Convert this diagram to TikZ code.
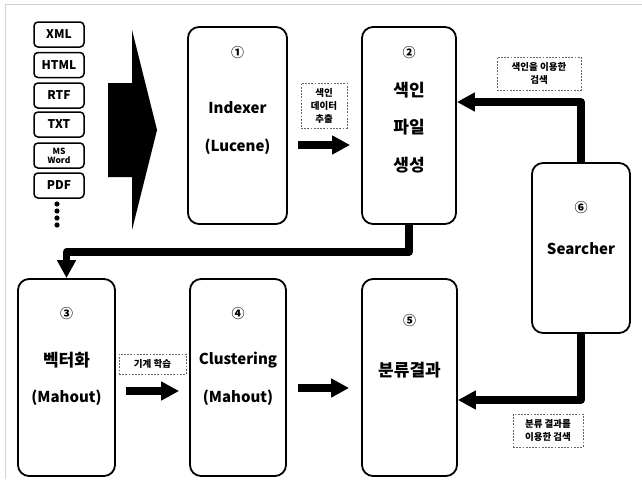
\documentclass[tikz,border=0pt]{standalone}
\usepackage{fontspec}
\setmainfont{Noto Sans CJK KR}
\usetikzlibrary{arrows.meta,calc}
\begin{document}
\begin{tikzpicture}[x=1pt,y=-1pt,
  bigbox/.style={draw,line width=1.8pt,rounded corners=11pt,inner sep=0pt},
  smallbox/.style={draw,line width=1.5pt,rounded corners=4pt,inner sep=0pt,minimum width=50pt,minimum height=25pt,font=\fontsize{12}{13}\selectfont\bfseries},
  lab/.style={draw=gray!80!black,dash pattern=on 1.8pt off 1.4pt,line width=0.7pt,inner sep=0pt,align=center,font=\fontsize{9.5}{13}\selectfont\bfseries},
  fat/.style={line width=7.5pt,line join=round,-{Triangle[length=18pt,width=18pt]}},
  num/.style={inner sep=0pt,font=\fontsize{13}{14}\selectfont\bfseries},
  lat/.style={inner sep=0pt,font=\fontsize{15}{16}\selectfont\bfseries},
  kor/.style={inner sep=0pt,font=\fontsize{17}{18}\selectfont\bfseries}]
\useasboundingbox (0,0) rectangle (642,479);
% frame
\draw[gray!35,line width=1pt] (5,479) -- (5,4) -- (642,4);
% file-type boxes
\node[smallbox] (xml) at (59,34.5) {XML};
\node[smallbox] (html) at (59,65) {HTML};
\node[smallbox] (rtf) at (59,95.5) {RTF};
\node[smallbox] (txt) at (59,124.5) {TXT};
\node[smallbox,align=center,font=\fontsize{8.5}{9}\selectfont\bfseries] (msw) at (59,155.5) {MS\\Word};
\node[smallbox] (pdf) at (59,185.5) {PDF};
\foreach \yy in {204,211,218,225} \fill (57,\yy) circle (2.6pt);
% big arrow
\fill (108,83) -- (132,83) -- (132,30) -- (157,130) -- (132,230) -- (132,177) -- (108,177) -- cycle;
% main boxes
\node[bigbox,minimum width=99pt,minimum height=197pt] (b1) at (237.5,125.5) {};
\node[bigbox,minimum width=94pt,minimum height=197pt] (b2) at (409,125.5) {};
\node[bigbox,minimum width=98pt,minimum height=170pt] (b6) at (581,248) {};
\node[bigbox,minimum width=97pt,minimum height=197pt] (b3) at (66.5,377.5) {};
\node[bigbox,minimum width=96pt,minimum height=197pt] (b4) at (238,377.5) {};
\node[bigbox,minimum width=95pt,minimum height=197pt] (b5) at (409.5,377.5) {};
% texts
\node[num] (n1) at (237.5,53) {①};
\node[lat] (t1a) at (237.5,108) {Indexer};
\node[lat] (t1b) at (237.5,147) {(Lucene)};
\node[num] (n2) at (409,53) {②};
\node[kor] (t2a) at (409,90) {색인};
\node[kor] (t2b) at (409,127) {파일};
\node[kor] (t2c) at (409,165) {생성};
\node[num] (n6) at (581,208) {⑥};
\node[lat] (t6) at (581,249) {Searcher};
\node[num] (n3) at (66.5,314) {③};
\node[kor] (t3a) at (66.5,360) {벡터화};
\node[lat] (t3b) at (66.5,398) {(Mahout)};
\node[num] (n4) at (238,314) {④};
\node[lat] (t4a) at (238,360) {Clustering};
\node[lat] (t4b) at (238,398) {(Mahout)};
\node[num] (n5) at (409.5,321) {⑤};
\node[kor] (t5) at (409.5,370) {분류결과};
% dashed labels
\node[lab,minimum width=46pt,minimum height=45pt] (l12) at (324,105.5) {색인\\데이터\\추출};
\node[lab,minimum width=67pt,minimum height=20pt] (l34) at (152.5,364) {기계 학습};
\node[lab,minimum width=84pt,minimum height=33pt] (l62) at (539,73.5) {색인을 이용한\\검색};
\node[lab,minimum width=70pt,minimum height=33pt] (l65) at (548,430.5) {분류 결과를\\이용한 검색};
% connectors
\draw[fat,shorten <=10pt,shorten >=11pt] (b1.east |- 0,145) -- (b2.west |- 0,145);
\draw[fat,shorten <=10pt,shorten >=10pt] (b3.east |- 0,391) -- (b4.west |- 0,391);
\draw[fat,shorten <=11pt,shorten >=12pt] (b4.east |- 0,388) -- (b5.west |- 0,388);
\draw[fat] (b2.south) |- (b3.north |- 0,252) -- (b3.north);
\draw[fat] (b6.north) |- (b2.east |- 0,102);
\draw[fat] (b6.south) |- (b5.east |- 0,400);
\end{tikzpicture}
\end{document}
